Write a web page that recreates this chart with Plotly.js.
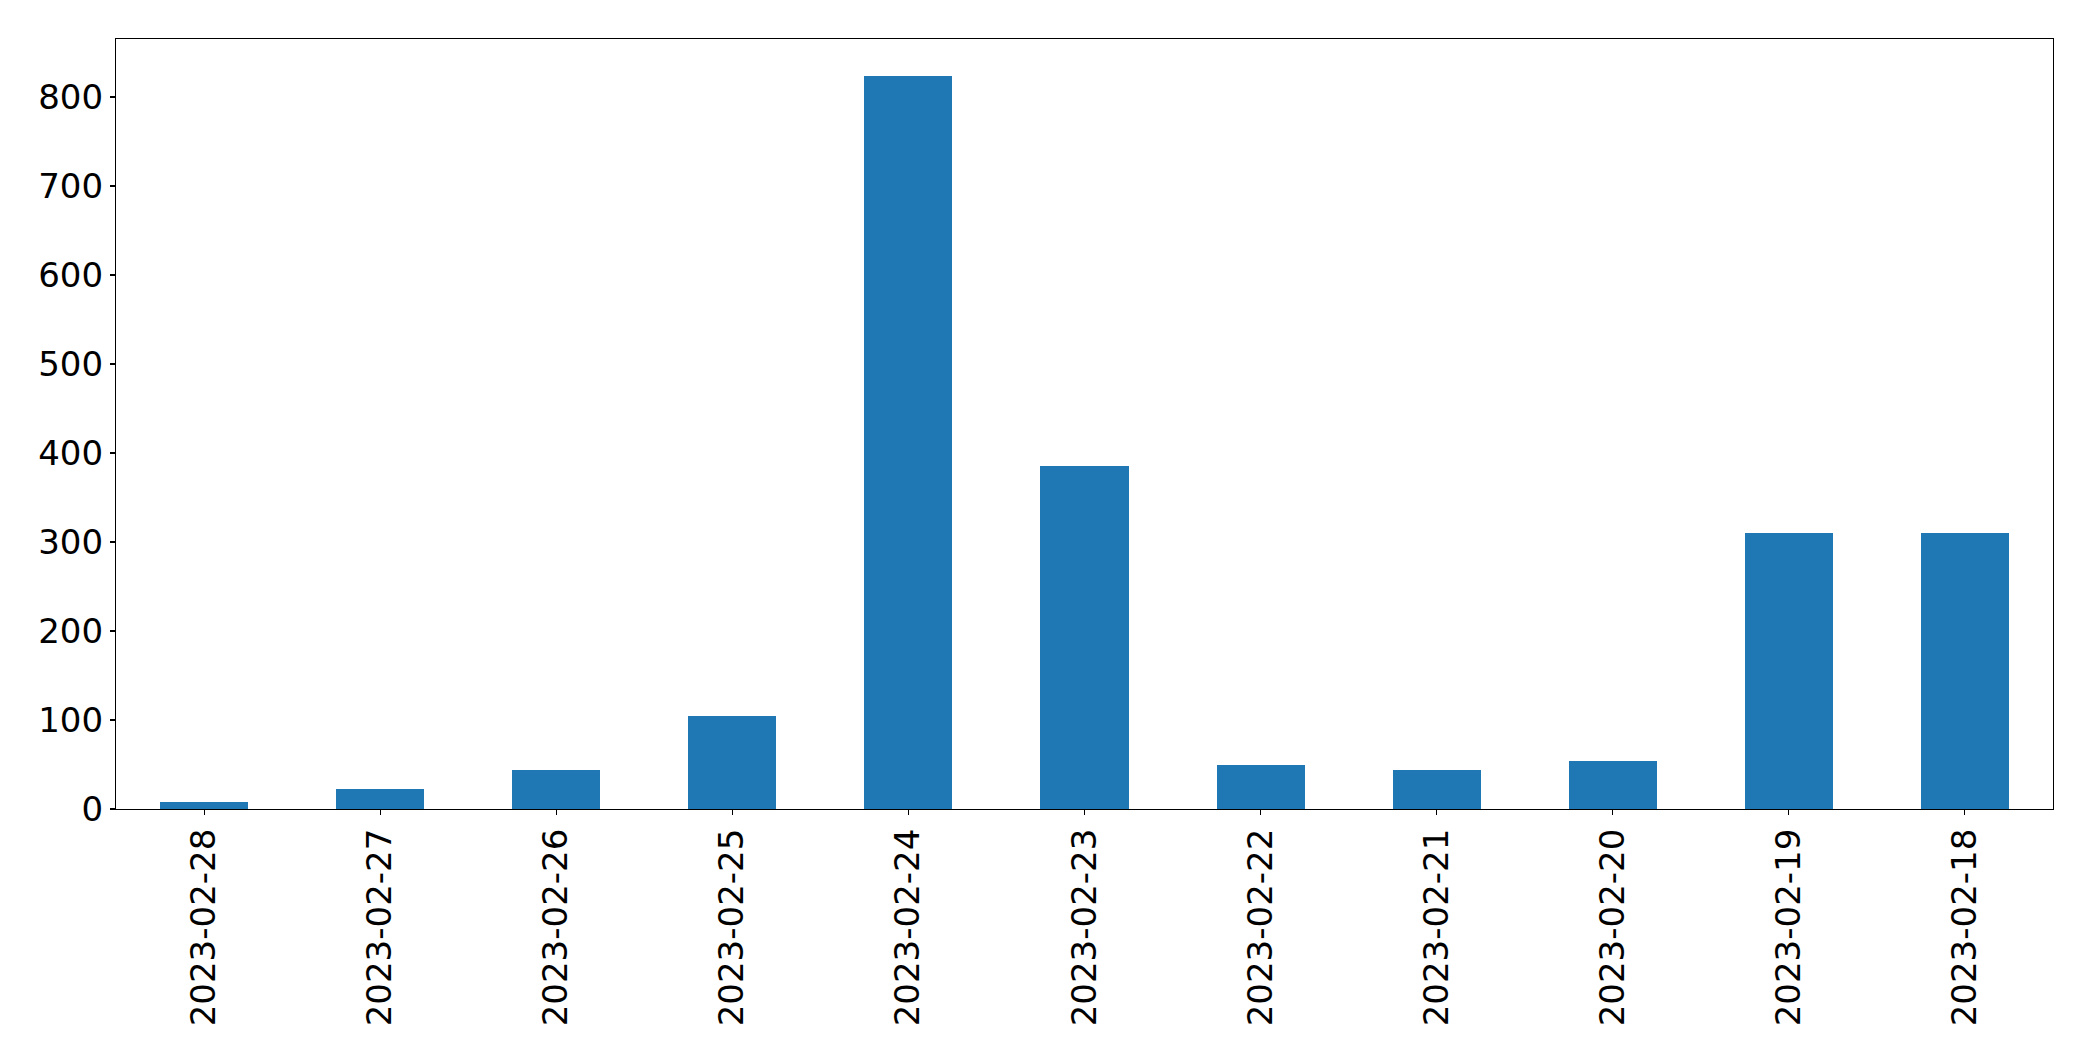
<!DOCTYPE html>
<html>
<head>
<meta charset="utf-8">
<script src="https://cdn.plot.ly/plotly-3.0.1.min.js"></script>
<style>html,body{margin:0;padding:0;background:#fff;}#chart{width:2093px;height:1061px;}</style>
</head>
<body>
<div id="chart"></div>
<script>
const dates = ["2023-02-28","2023-02-27","2023-02-26","2023-02-25","2023-02-24","2023-02-23","2023-02-22","2023-02-21","2023-02-20","2023-02-19","2023-02-18"];
const counts = [8, 22, 44, 104, 824, 385, 49, 44, 54, 310, 310];
const yTicks = [0, 100, 200, 300, 400, 500, 600, 700, 800];

const trace = {
  type: 'bar',
  x: dates.map((d, i) => i),
  y: counts,
  width: 0.5,
  marker: {color: '#1f77b4', line: {width: 0}},
  hoverinfo: 'skip'
};

const layout = {
  width: 2093, height: 1061,
  margin: {l: 116, r: 40, t: 39, b: 252, pad: 0},
  paper_bgcolor: '#ffffff', plot_bgcolor: '#ffffff',
  showlegend: false,
  font: {family: 'DejaVu Sans', size: 34, color: '#000000'},
  xaxis: {
    range: [-0.5, 10.5],
    tickmode: 'array',
    tickvals: dates.map((d, i) => i),
    ticktext: dates,
    tickangle: -90,
    ticks: 'outside', ticklen: 5, tickwidth: 1.1, tickcolor: '#000',
    showline: true, linecolor: '#000', linewidth: 1.1, mirror: true,
    showgrid: false, zeroline: false,
    tickfont: {family: 'DejaVu Sans', size: 34, color: '#000'}
  },
  yaxis: {
    range: [0, 865.2],
    tickmode: 'array',
    tickvals: yTicks,
    ticktext: yTicks.map(String),
    ticks: 'outside', ticklen: 5, tickwidth: 1.1, tickcolor: '#000',
    showline: true, linecolor: '#000', linewidth: 1.1, mirror: true,
    showgrid: false, zeroline: false,
    tickfont: {family: 'DejaVu Sans', size: 34, color: '#000'}
  },
  bargap: 0
};

Plotly.newPlot('chart', [trace], layout, {displayModeBar: false, staticPlot: true});
</script>
</body>
</html>
